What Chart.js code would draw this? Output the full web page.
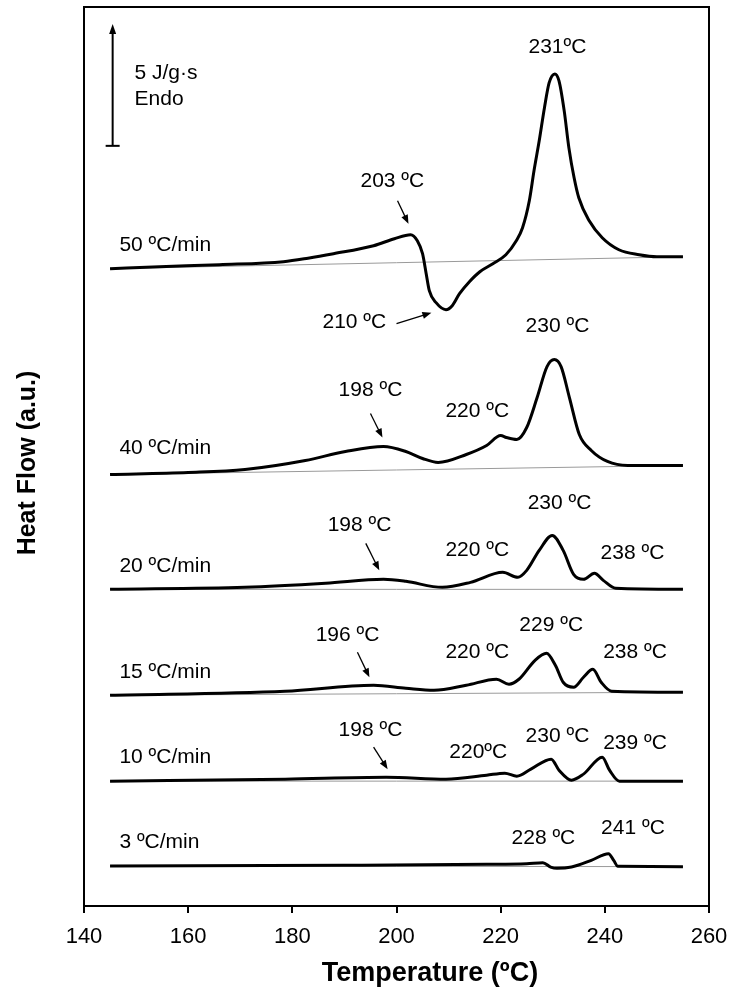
<!DOCTYPE html>
<html>
<head>
<meta charset="utf-8">
<script src="https://cdn.jsdelivr.net/npm/chart.js@4"></script>
<style>
  html, body { margin: 0; padding: 0; background: #fff; }
  canvas { display: block; }
</style>
</head>
<body>
<canvas id="dsc" width="732" height="996"></canvas>
<script>
// DSC curves at different heating rates (heat flow in a.u., curves stacked)

const xTicks = [140, 160, 180, 200, 220, 240, 260];

const rateLabels = ['50 ºC/min', '40 ºC/min', '20 ºC/min', '15 ºC/min', '10 ºC/min', '3 ºC/min'];

const temp50 = [145, 154.5, 166, 178.3, 183, 187.9, 195.6, 199.6, 202.7, 204.0, 205.0, 205.7, 206.3, 207.6, 209.5, 210.7, 212.1, 214.0, 216.0, 218.5, 221.0, 223.0, 224.2, 225.5, 226.4, 227.4, 228.4, 229.3, 230.4, 231.2, 232.2, 233.1, 234.1, 235.0, 237.0, 239.5, 242.7, 246.6, 250, 255];
const flow50 = [63.8, 64.0, 64.2, 64.5, 64.85, 65.3, 66.1, 66.8, 67.2, 66.6, 65.3, 63.3, 61.6, 60.4, 59.7, 60.1, 61.3, 62.5, 63.5, 64.3, 65.2, 66.6, 67.9, 70.6, 73.6, 76.6, 79.9, 82.4, 83.3, 82.6, 79.6, 75.9, 72.9, 70.9, 68.6, 66.9, 65.7, 65.2, 65.0, 65.0];

const temp40 = [145, 160, 170.9, 182.5, 190.2, 197.5, 201.8, 205, 208.0, 213.4, 217.3, 220.0, 221.1, 223.1, 225.0, 227.0, 228.9, 230.3, 231.6, 233.2, 235.1, 237.4, 240.5, 244.4, 255];
const flow40 = [43.2, 43.4, 43.7, 44.6, 45.5, 46.0, 45.5, 44.8, 44.4, 45.2, 46.1, 47.1, 46.9, 46.7, 47.9, 50.9, 54.0, 54.7, 54.0, 50.9, 47.2, 45.6, 44.5, 44.1, 44.1];

const temp20 = [145, 170.9, 186.4, 197.5, 201.8, 208.8, 214.2, 220.4, 223.3, 225.0, 227.4, 229.9, 232.0, 234.0, 235.9, 238.0, 239.7, 242.1, 255];
const flow20 = [31.7, 31.9, 32.3, 32.7, 32.5, 31.9, 32.4, 33.4, 32.9, 33.6, 35.6, 37.1, 35.6, 33.2, 32.7, 33.3, 32.6, 31.8, 31.7];

const temp15 = [145, 178.6, 195.6, 201.8, 207.2, 213.4, 219.2, 221.6, 223.5, 226.6, 228.8, 230.5, 232.0, 234.0, 235.9, 237.7, 239.3, 241.3, 255];
const flow15 = [21.1, 21.5, 22.1, 21.8, 21.6, 22.1, 22.7, 22.2, 22.7, 24.6, 25.3, 24.1, 22.4, 21.9, 22.9, 23.7, 22.4, 21.5, 21.4];

const temp10 = [145, 178.6, 198.0, 209.5, 217.3, 220.8, 223.1, 225.8, 229.7, 231.2, 233.6, 235.9, 239.5, 240.9, 242.8, 255];
const flow10 = [12.5, 12.7, 12.9, 12.7, 13.1, 13.3, 13.0, 13.7, 14.7, 13.6, 12.6, 13.2, 14.9, 13.6, 12.5, 12.5];

const temp3 = [145, 190, 217.3, 225.0, 228.1, 229.6, 230.8, 233.6, 237.4, 240.7, 241.7, 242.5, 255];
const flow3 = [4.0, 4.07, 4.17, 4.24, 4.34, 3.9, 3.77, 3.9, 4.57, 5.24, 4.57, 3.97, 3.94];

// straight baselines under each curve (start and end of the run)
const baseTemp = [145, 255];
const base50 = [63.8, 65.0];
const base40 = [43.2, 44.1];
const base20 = [31.7, 31.7];
const base15 = [21.1, 21.4];
const base10 = [12.5, 12.5];
const base3 = [4.0, 3.94];

const curves = [
  [temp50, flow50, base50],
  [temp40, flow40, base40],
  [temp20, flow20, base20],
  [temp15, flow15, base15],
  [temp10, flow10, base10],
  [temp3, flow3, base3]
];

// label placement (data units)
const rateLabelPos = [[146.8, 66.2], [146.8, 45.8], [146.8, 34.0], [146.8, 23.4], [146.8, 14.9], [146.8, 6.4]];

const peakLabels = [
  ['231ºC', 230.9, 86.0],
  ['203 ºC', 199.2, 72.6],
  ['210 ºC', 191.9, 58.4],
  ['230 ºC', 230.9, 58.0],
  ['198 ºC', 195.0, 51.6],
  ['220 ºC', 215.5, 49.5],
  ['230 ºC', 231.3, 40.3],
  ['198 ºC', 192.9, 38.1],
  ['220 ºC', 215.5, 35.6],
  ['238 ºC', 245.3, 35.3],
  ['229 ºC', 229.7, 28.1],
  ['196 ºC', 190.6, 27.1],
  ['220 ºC', 215.5, 25.4],
  ['238 ºC', 245.8, 25.4],
  ['198 ºC', 195.0, 17.6],
  ['220ºC', 215.7, 15.4],
  ['230 ºC', 230.9, 17.0],
  ['239 ºC', 245.8, 16.3],
  ['228 ºC', 228.2, 6.8],
  ['241 ºC', 245.4, 7.8]
];

const arrows = [
  [200.2, 70.6, 202.3, 68.3],
  [200.0, 58.3, 206.7, 59.4],
  [195.0, 49.3, 197.3, 46.9],
  [194.1, 36.3, 196.7, 33.6],
  [192.5, 25.4, 194.8, 22.9],
  [195.6, 15.9, 198.3, 13.7]
];

const FONT = '"Liberation Sans", Arial, sans-serif';

const datasets = [];
curves.forEach(([t, f, b]) => {
  datasets.push({
    data: t.map((v, i) => ({ x: v, y: f[i] })),
    borderColor: '#000',
    borderWidth: 3,
    pointRadius: 0,
    cubicInterpolationMode: 'monotone',
    order: 1
  });
  datasets.push({
    data: baseTemp.map((v, i) => ({ x: v, y: b[i] })),
    borderColor: '#9a9a9a',
    borderWidth: 1,
    pointRadius: 0,
    order: 2
  });
});

function arrow(ctx, x1, y1, x2, y2, head, width) {
  const ang = Math.atan2(y2 - y1, x2 - x1);
  ctx.beginPath();
  ctx.moveTo(x1, y1);
  ctx.lineTo(x2 - Math.cos(ang) * head * 0.6, y2 - Math.sin(ang) * head * 0.6);
  ctx.stroke();
  ctx.beginPath();
  ctx.moveTo(x2, y2);
  ctx.lineTo(x2 - head * Math.cos(ang) + width * Math.sin(ang), y2 - head * Math.sin(ang) - width * Math.cos(ang));
  ctx.lineTo(x2 - head * Math.cos(ang) - width * Math.sin(ang), y2 - head * Math.sin(ang) + width * Math.cos(ang));
  ctx.closePath();
  ctx.fill();
}

const annot = {
  id: 'annot',
  afterDraw(chart) {
    const { ctx, chartArea: a, scales: { x, y } } = chart;
    ctx.save();
    ctx.strokeStyle = '#000';
    ctx.fillStyle = '#000';
    ctx.lineWidth = 2;
    ctx.strokeRect(a.left, a.top, a.right - a.left, a.bottom - a.top);

    ctx.font = '21px ' + FONT;
    ctx.textBaseline = 'middle';
    ctx.textAlign = 'left';
    rateLabels.forEach((s, i) => {
      ctx.fillText(s, x.getPixelForValue(rateLabelPos[i][0]), y.getPixelForValue(rateLabelPos[i][1]));
    });

    ctx.textAlign = 'center';
    peakLabels.forEach(([s, t, v]) => {
      ctx.fillText(s, x.getPixelForValue(t), y.getPixelForValue(v));
    });

    ctx.lineWidth = 1.3;
    arrows.forEach(([t1, v1, t2, v2]) => {
      arrow(ctx, x.getPixelForValue(t1), y.getPixelForValue(v1), x.getPixelForValue(t2), y.getPixelForValue(v2), 9, 3.5);
    });

    // scale bar 5 J/g·s, endo up
    const bx = x.getPixelForValue(145.5);
    const bTop = y.getPixelForValue(88.3);
    const bBot = y.getPixelForValue(76.1);
    ctx.lineWidth = 2;
    arrow(ctx, bx, bBot, bx, bTop, 10, 3.5);
    ctx.beginPath();
    ctx.moveTo(bx - 7, bBot);
    ctx.lineTo(bx + 7, bBot);
    ctx.stroke();
    ctx.textAlign = 'left';
    ctx.font = '21px ' + FONT;
    ctx.fillText('5 J/g·s', x.getPixelForValue(149.7), y.getPixelForValue(83.4));
    ctx.fillText('Endo', x.getPixelForValue(149.7), y.getPixelForValue(80.8));

    // axis titles
    ctx.textAlign = 'center';
    ctx.font = 'bold 27px ' + FONT;
    ctx.fillText('Temperature (ºC)', 430, 974);
    ctx.translate(28, 463);
    ctx.rotate(-Math.PI / 2);
    ctx.font = 'bold 25px ' + FONT;
    ctx.fillText('Heat Flow (a.u.)', 0, 0);
    ctx.restore();
  }
};

new Chart(document.getElementById('dsc'), {
  type: 'line',
  data: { datasets },
  options: {
    responsive: false,
    animation: false,
    layout: { padding: { left: 84, right: 23, top: 7, bottom: 0 } },
    plugins: { legend: { display: false }, tooltip: { enabled: false } },
    scales: {
      x: {
        type: 'linear',
        min: 140,
        max: 260,
        afterBuildTicks: s => { s.ticks = xTicks.map(v => ({ value: v })); },
        afterFit: s => { s.height = 90; s.paddingLeft = 0; s.paddingRight = 0; },
        ticks: { color: '#000', font: { family: FONT, size: 22 }, padding: 11, maxRotation: 0 },
        grid: { drawOnChartArea: false, drawTicks: true, tickLength: 7, color: '#000', lineWidth: 2 },
        border: { display: true, color: '#000', width: 2 }
      },
      y: {
        display: false,
        min: 0,
        max: 90
      }
    }
  },
  plugins: [annot]
});
</script>
</body>
</html>
